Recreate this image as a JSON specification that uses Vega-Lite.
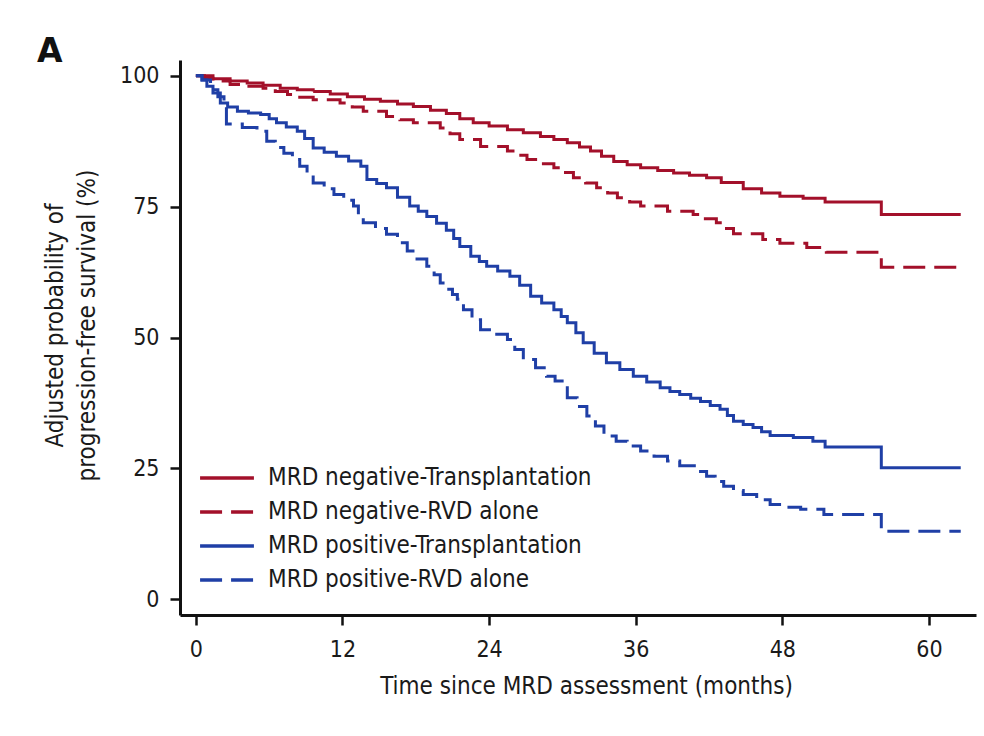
{
  "$schema": "https://vega.github.io/schema/vega-lite/v6.json",
  "autosize": {"type": "none"},
  "padding": {"left": 180, "top": 60, "right": 8, "bottom": 121},
  "width": 796,
  "height": 555,
  "background": "white",
  "title": {
    "text": "A",
    "anchor": "start",
    "frame": "group",
    "fontSize": 33,
    "fontWeight": "bold",
    "font": "DejaVu Sans",
    "color": "#111",
    "dx": -143,
    "offset": -9
  },
  "config": {
    "font": "DejaVu Sans Condensed",
    "view": {"stroke": null},
    "axis": {
      "domainColor": "#111",
      "domainWidth": 3,
      "tickColor": "#111",
      "tickWidth": 2.5,
      "tickSize": 10,
      "grid": false,
      "labelFont": "DejaVu Sans Condensed",
      "labelFontSize": 23,
      "labelColor": "#1a1a1a",
      "titleFont": "DejaVu Sans Condensed",
      "titleFontSize": 24,
      "titleFontWeight": "normal",
      "titleColor": "#1a1a1a"
    },
    "legend": {
      "labelFont": "DejaVu Sans Condensed",
      "labelFontSize": 24,
      "labelColor": "#1a1a1a",
      "labelLimit": 0
    }
  },
  "data": {
    "values": [
      {"group": "MRD negative-Transplantation", "t": 0, "p": 100},
      {"group": "MRD negative-Transplantation", "t": 1.4, "p": 99.4},
      {"group": "MRD negative-Transplantation", "t": 2.8, "p": 99.0},
      {"group": "MRD negative-Transplantation", "t": 4.2, "p": 98.6},
      {"group": "MRD negative-Transplantation", "t": 5.5, "p": 98.2},
      {"group": "MRD negative-Transplantation", "t": 6.9, "p": 97.6},
      {"group": "MRD negative-Transplantation", "t": 8.3, "p": 97.3},
      {"group": "MRD negative-Transplantation", "t": 9.6, "p": 97.0},
      {"group": "MRD negative-Transplantation", "t": 11, "p": 96.5},
      {"group": "MRD negative-Transplantation", "t": 12.4, "p": 96.0},
      {"group": "MRD negative-Transplantation", "t": 13.8, "p": 95.5},
      {"group": "MRD negative-Transplantation", "t": 15.1, "p": 95.1},
      {"group": "MRD negative-Transplantation", "t": 16.5, "p": 94.6},
      {"group": "MRD negative-Transplantation", "t": 17.8, "p": 94.1},
      {"group": "MRD negative-Transplantation", "t": 19.2, "p": 93.4},
      {"group": "MRD negative-Transplantation", "t": 20.5, "p": 92.8},
      {"group": "MRD negative-Transplantation", "t": 21.6, "p": 91.8},
      {"group": "MRD negative-Transplantation", "t": 22.7, "p": 91.0},
      {"group": "MRD negative-Transplantation", "t": 24, "p": 90.4},
      {"group": "MRD negative-Transplantation", "t": 25.5, "p": 89.7},
      {"group": "MRD negative-Transplantation", "t": 26.8, "p": 89.1},
      {"group": "MRD negative-Transplantation", "t": 28.2, "p": 88.4},
      {"group": "MRD negative-Transplantation", "t": 29.3, "p": 87.8},
      {"group": "MRD negative-Transplantation", "t": 30.4, "p": 87.2},
      {"group": "MRD negative-Transplantation", "t": 31.4, "p": 86.4},
      {"group": "MRD negative-Transplantation", "t": 32.3, "p": 85.6},
      {"group": "MRD negative-Transplantation", "t": 33.2, "p": 84.6},
      {"group": "MRD negative-Transplantation", "t": 34.2, "p": 83.6},
      {"group": "MRD negative-Transplantation", "t": 35.3, "p": 83.0},
      {"group": "MRD negative-Transplantation", "t": 36.4, "p": 82.4},
      {"group": "MRD negative-Transplantation", "t": 37.8, "p": 81.9},
      {"group": "MRD negative-Transplantation", "t": 39.1, "p": 81.4},
      {"group": "MRD negative-Transplantation", "t": 40.4, "p": 81.0},
      {"group": "MRD negative-Transplantation", "t": 41.8, "p": 80.5},
      {"group": "MRD negative-Transplantation", "t": 43, "p": 79.6},
      {"group": "MRD negative-Transplantation", "t": 44.8, "p": 78.4},
      {"group": "MRD negative-Transplantation", "t": 46.3, "p": 77.6},
      {"group": "MRD negative-Transplantation", "t": 47.8, "p": 77.0},
      {"group": "MRD negative-Transplantation", "t": 49.7, "p": 76.6},
      {"group": "MRD negative-Transplantation", "t": 51.5, "p": 75.9},
      {"group": "MRD negative-Transplantation", "t": 56.1, "p": 73.5},
      {"group": "MRD negative-Transplantation", "t": 62.6, "p": 73.5},

      {"group": "MRD negative-RVD alone", "t": 0, "p": 100},
      {"group": "MRD negative-RVD alone", "t": 0.7, "p": 99.5},
      {"group": "MRD negative-RVD alone", "t": 1.4, "p": 99.0},
      {"group": "MRD negative-RVD alone", "t": 2.8, "p": 98.3},
      {"group": "MRD negative-RVD alone", "t": 4.2, "p": 98.0},
      {"group": "MRD negative-RVD alone", "t": 5.5, "p": 97.6},
      {"group": "MRD negative-RVD alone", "t": 6.5, "p": 97.0},
      {"group": "MRD negative-RVD alone", "t": 7.5, "p": 96.4},
      {"group": "MRD negative-RVD alone", "t": 8.5, "p": 95.9},
      {"group": "MRD negative-RVD alone", "t": 9.6, "p": 95.4},
      {"group": "MRD negative-RVD alone", "t": 11.8, "p": 94.8},
      {"group": "MRD negative-RVD alone", "t": 12.8, "p": 94.0},
      {"group": "MRD negative-RVD alone", "t": 13.7, "p": 93.2},
      {"group": "MRD negative-RVD alone", "t": 15.6, "p": 92.2},
      {"group": "MRD negative-RVD alone", "t": 16.7, "p": 91.6},
      {"group": "MRD negative-RVD alone", "t": 17.8, "p": 91.0},
      {"group": "MRD negative-RVD alone", "t": 20, "p": 90.0},
      {"group": "MRD negative-RVD alone", "t": 20.8, "p": 88.9},
      {"group": "MRD negative-RVD alone", "t": 21.6, "p": 87.8},
      {"group": "MRD negative-RVD alone", "t": 23.3, "p": 86.5},
      {"group": "MRD negative-RVD alone", "t": 25.5, "p": 85.6},
      {"group": "MRD negative-RVD alone", "t": 26.3, "p": 84.8},
      {"group": "MRD negative-RVD alone", "t": 27.1, "p": 84.0},
      {"group": "MRD negative-RVD alone", "t": 28.2, "p": 83.2},
      {"group": "MRD negative-RVD alone", "t": 29.3, "p": 82.4},
      {"group": "MRD negative-RVD alone", "t": 30.1, "p": 81.5},
      {"group": "MRD negative-RVD alone", "t": 30.9, "p": 80.5},
      {"group": "MRD negative-RVD alone", "t": 31.9, "p": 79.5},
      {"group": "MRD negative-RVD alone", "t": 32.8, "p": 78.6},
      {"group": "MRD negative-RVD alone", "t": 33.7, "p": 77.6},
      {"group": "MRD negative-RVD alone", "t": 34.5, "p": 76.7},
      {"group": "MRD negative-RVD alone", "t": 35.5, "p": 75.9},
      {"group": "MRD negative-RVD alone", "t": 36.4, "p": 75.1},
      {"group": "MRD negative-RVD alone", "t": 38.6, "p": 74.1},
      {"group": "MRD negative-RVD alone", "t": 40.7, "p": 73.5},
      {"group": "MRD negative-RVD alone", "t": 41.7, "p": 72.7},
      {"group": "MRD negative-RVD alone", "t": 42.6, "p": 71.9},
      {"group": "MRD negative-RVD alone", "t": 43.3, "p": 70.8},
      {"group": "MRD negative-RVD alone", "t": 44, "p": 69.8},
      {"group": "MRD negative-RVD alone", "t": 46.4, "p": 68.7},
      {"group": "MRD negative-RVD alone", "t": 47.8, "p": 68.0},
      {"group": "MRD negative-RVD alone", "t": 50, "p": 67.2},
      {"group": "MRD negative-RVD alone", "t": 51.6, "p": 66.3},
      {"group": "MRD negative-RVD alone", "t": 56.1, "p": 63.4},
      {"group": "MRD negative-RVD alone", "t": 62.5, "p": 63.4},

      {"group": "MRD positive-Transplantation", "t": 0, "p": 100},
      {"group": "MRD positive-Transplantation", "t": 0.5, "p": 99.2},
      {"group": "MRD positive-Transplantation", "t": 0.9, "p": 98.0},
      {"group": "MRD positive-Transplantation", "t": 1.4, "p": 96.7},
      {"group": "MRD positive-Transplantation", "t": 2.0, "p": 94.8},
      {"group": "MRD positive-Transplantation", "t": 2.6, "p": 94.0},
      {"group": "MRD positive-Transplantation", "t": 3.4, "p": 93.2},
      {"group": "MRD positive-Transplantation", "t": 4.3, "p": 92.9},
      {"group": "MRD positive-Transplantation", "t": 5.3, "p": 92.6},
      {"group": "MRD positive-Transplantation", "t": 6.0, "p": 91.8},
      {"group": "MRD positive-Transplantation", "t": 6.6, "p": 91.0},
      {"group": "MRD positive-Transplantation", "t": 7.4, "p": 90.2},
      {"group": "MRD positive-Transplantation", "t": 8.3, "p": 89.4},
      {"group": "MRD positive-Transplantation", "t": 8.9, "p": 88.0},
      {"group": "MRD positive-Transplantation", "t": 9.6, "p": 86.2},
      {"group": "MRD positive-Transplantation", "t": 10.5, "p": 85.4},
      {"group": "MRD positive-Transplantation", "t": 11.5, "p": 84.6},
      {"group": "MRD positive-Transplantation", "t": 12.5, "p": 83.7},
      {"group": "MRD positive-Transplantation", "t": 13.5, "p": 82.7},
      {"group": "MRD positive-Transplantation", "t": 14, "p": 80.2},
      {"group": "MRD positive-Transplantation", "t": 14.8, "p": 79.4},
      {"group": "MRD positive-Transplantation", "t": 15.6, "p": 78.6},
      {"group": "MRD positive-Transplantation", "t": 16.5, "p": 76.8},
      {"group": "MRD positive-Transplantation", "t": 17.5, "p": 75.1},
      {"group": "MRD positive-Transplantation", "t": 18.2, "p": 74.1},
      {"group": "MRD positive-Transplantation", "t": 18.9, "p": 73.1},
      {"group": "MRD positive-Transplantation", "t": 19.7, "p": 71.8},
      {"group": "MRD positive-Transplantation", "t": 20.5, "p": 70.5},
      {"group": "MRD positive-Transplantation", "t": 21.1, "p": 68.9},
      {"group": "MRD positive-Transplantation", "t": 21.6, "p": 67.4},
      {"group": "MRD positive-Transplantation", "t": 22.5, "p": 65.5},
      {"group": "MRD positive-Transplantation", "t": 23.2, "p": 64.5},
      {"group": "MRD positive-Transplantation", "t": 23.8, "p": 63.6},
      {"group": "MRD positive-Transplantation", "t": 24.7, "p": 62.7},
      {"group": "MRD positive-Transplantation", "t": 25.7, "p": 61.7},
      {"group": "MRD positive-Transplantation", "t": 26.5, "p": 60.0},
      {"group": "MRD positive-Transplantation", "t": 27.4, "p": 57.9},
      {"group": "MRD positive-Transplantation", "t": 28.3, "p": 56.6},
      {"group": "MRD positive-Transplantation", "t": 29.3, "p": 55.3},
      {"group": "MRD positive-Transplantation", "t": 29.9, "p": 54.0},
      {"group": "MRD positive-Transplantation", "t": 30.4, "p": 52.8},
      {"group": "MRD positive-Transplantation", "t": 31.1, "p": 50.9},
      {"group": "MRD positive-Transplantation", "t": 31.7, "p": 49.0},
      {"group": "MRD positive-Transplantation", "t": 32.6, "p": 47.0},
      {"group": "MRD positive-Transplantation", "t": 33.6, "p": 45.2},
      {"group": "MRD positive-Transplantation", "t": 34.7, "p": 43.9},
      {"group": "MRD positive-Transplantation", "t": 35.8, "p": 42.6},
      {"group": "MRD positive-Transplantation", "t": 36.9, "p": 41.5},
      {"group": "MRD positive-Transplantation", "t": 38, "p": 40.4},
      {"group": "MRD positive-Transplantation", "t": 38.8, "p": 39.7},
      {"group": "MRD positive-Transplantation", "t": 39.6, "p": 39.1},
      {"group": "MRD positive-Transplantation", "t": 40.5, "p": 38.4},
      {"group": "MRD positive-Transplantation", "t": 41.3, "p": 37.8},
      {"group": "MRD positive-Transplantation", "t": 42.1, "p": 37.0},
      {"group": "MRD positive-Transplantation", "t": 42.9, "p": 36.3},
      {"group": "MRD positive-Transplantation", "t": 43.5, "p": 35.1},
      {"group": "MRD positive-Transplantation", "t": 44, "p": 34.0},
      {"group": "MRD positive-Transplantation", "t": 44.8, "p": 33.4},
      {"group": "MRD positive-Transplantation", "t": 45.6, "p": 32.8},
      {"group": "MRD positive-Transplantation", "t": 46.3, "p": 32.0},
      {"group": "MRD positive-Transplantation", "t": 47, "p": 31.3},
      {"group": "MRD positive-Transplantation", "t": 48.9, "p": 30.9},
      {"group": "MRD positive-Transplantation", "t": 50.5, "p": 30.2},
      {"group": "MRD positive-Transplantation", "t": 51.5, "p": 29.1},
      {"group": "MRD positive-Transplantation", "t": 56.1, "p": 25.1},
      {"group": "MRD positive-Transplantation", "t": 62.6, "p": 25.1},

      {"group": "MRD positive-RVD alone", "t": 0, "p": 100},
      {"group": "MRD positive-RVD alone", "t": 0.5, "p": 99.2},
      {"group": "MRD positive-RVD alone", "t": 1.2, "p": 97.3},
      {"group": "MRD positive-RVD alone", "t": 1.8, "p": 96.0},
      {"group": "MRD positive-RVD alone", "t": 2.3, "p": 94.8},
      {"group": "MRD positive-RVD alone", "t": 2.5, "p": 90.8},
      {"group": "MRD positive-RVD alone", "t": 3.8, "p": 90.1},
      {"group": "MRD positive-RVD alone", "t": 5.0, "p": 89.4},
      {"group": "MRD positive-RVD alone", "t": 5.8, "p": 87.5},
      {"group": "MRD positive-RVD alone", "t": 6.5, "p": 86.3},
      {"group": "MRD positive-RVD alone", "t": 7.2, "p": 85.2},
      {"group": "MRD positive-RVD alone", "t": 7.9, "p": 84.0},
      {"group": "MRD positive-RVD alone", "t": 8.5, "p": 82.7},
      {"group": "MRD positive-RVD alone", "t": 9.1, "p": 81.0},
      {"group": "MRD positive-RVD alone", "t": 9.6, "p": 79.5},
      {"group": "MRD positive-RVD alone", "t": 10.5, "p": 78.4},
      {"group": "MRD positive-RVD alone", "t": 11.3, "p": 77.3},
      {"group": "MRD positive-RVD alone", "t": 12.1, "p": 76.2},
      {"group": "MRD positive-RVD alone", "t": 12.9, "p": 75.1},
      {"group": "MRD positive-RVD alone", "t": 13.3, "p": 73.5},
      {"group": "MRD positive-RVD alone", "t": 13.7, "p": 71.9},
      {"group": "MRD positive-RVD alone", "t": 14.7, "p": 70.8},
      {"group": "MRD positive-RVD alone", "t": 15.6, "p": 69.7},
      {"group": "MRD positive-RVD alone", "t": 16.5, "p": 68.1},
      {"group": "MRD positive-RVD alone", "t": 17.3, "p": 66.5},
      {"group": "MRD positive-RVD alone", "t": 18.1, "p": 65.0},
      {"group": "MRD positive-RVD alone", "t": 18.9, "p": 63.6},
      {"group": "MRD positive-RVD alone", "t": 19.5, "p": 62.0},
      {"group": "MRD positive-RVD alone", "t": 20, "p": 60.4},
      {"group": "MRD positive-RVD alone", "t": 20.5, "p": 59.2},
      {"group": "MRD positive-RVD alone", "t": 21.0, "p": 58.2},
      {"group": "MRD positive-RVD alone", "t": 21.4, "p": 57.3},
      {"group": "MRD positive-RVD alone", "t": 21.9, "p": 55.3},
      {"group": "MRD positive-RVD alone", "t": 22.6, "p": 53.4},
      {"group": "MRD positive-RVD alone", "t": 23.3, "p": 51.5},
      {"group": "MRD positive-RVD alone", "t": 24.4, "p": 50.6},
      {"group": "MRD positive-RVD alone", "t": 25.5, "p": 49.6},
      {"group": "MRD positive-RVD alone", "t": 26.1, "p": 47.7},
      {"group": "MRD positive-RVD alone", "t": 26.8, "p": 45.8},
      {"group": "MRD positive-RVD alone", "t": 27.8, "p": 44.2},
      {"group": "MRD positive-RVD alone", "t": 28.7, "p": 42.6},
      {"group": "MRD positive-RVD alone", "t": 29.4, "p": 41.7},
      {"group": "MRD positive-RVD alone", "t": 30.1, "p": 40.7},
      {"group": "MRD positive-RVD alone", "t": 30.4, "p": 38.5},
      {"group": "MRD positive-RVD alone", "t": 31.2, "p": 36.8},
      {"group": "MRD positive-RVD alone", "t": 32, "p": 35.0},
      {"group": "MRD positive-RVD alone", "t": 32.7, "p": 33.1},
      {"group": "MRD positive-RVD alone", "t": 33.4, "p": 31.2},
      {"group": "MRD positive-RVD alone", "t": 34.4, "p": 30.2},
      {"group": "MRD positive-RVD alone", "t": 35.3, "p": 29.3},
      {"group": "MRD positive-RVD alone", "t": 36.4, "p": 28.3},
      {"group": "MRD positive-RVD alone", "t": 37.5, "p": 27.3},
      {"group": "MRD positive-RVD alone", "t": 38.6, "p": 26.4},
      {"group": "MRD positive-RVD alone", "t": 39.6, "p": 25.5},
      {"group": "MRD positive-RVD alone", "t": 41.0, "p": 24.4},
      {"group": "MRD positive-RVD alone", "t": 41.8, "p": 23.5},
      {"group": "MRD positive-RVD alone", "t": 42.5, "p": 22.5},
      {"group": "MRD positive-RVD alone", "t": 43.2, "p": 21.6},
      {"group": "MRD positive-RVD alone", "t": 44, "p": 20.8},
      {"group": "MRD positive-RVD alone", "t": 44.8, "p": 20.0},
      {"group": "MRD positive-RVD alone", "t": 45.9, "p": 19.0},
      {"group": "MRD positive-RVD alone", "t": 47, "p": 18.1},
      {"group": "MRD positive-RVD alone", "t": 48.3, "p": 17.6},
      {"group": "MRD positive-RVD alone", "t": 49.5, "p": 17.2},
      {"group": "MRD positive-RVD alone", "t": 51.4, "p": 16.2},
      {"group": "MRD positive-RVD alone", "t": 56.1, "p": 13.0},
      {"group": "MRD positive-RVD alone", "t": 62.6, "p": 13.0}
    ]
  },
  "mark": {"type": "line", "interpolate": "step-after", "strokeWidth": 3, "clip": false},
  "encoding": {
    "x": {
      "field": "t",
      "type": "quantitative",
      "scale": {"domain": [-1.3, 63.85], "nice": false, "zero": false},
      "axis": {
        "values": [0, 12, 24, 36, 48, 60],
        "title": "Time since MRD assessment (months)",
        "titleX": 406,
        "labelPadding": 13,
        "titlePadding": 13
      }
    },
    "y": {
      "field": "p",
      "type": "quantitative",
      "scale": {"domain": [-3, 103], "nice": false, "zero": false},
      "axis": {
        "values": [0, 25, 50, 75, 100],
        "title": ["Adjusted probability of", "progression-free survival (%)"],
        "titleLineHeight": 32,
        "titleY": 265,
        "labelPadding": 11,
        "titlePadding": 20
      }
    },
    "color": {
      "field": "group",
      "type": "nominal",
      "sort": ["MRD negative-Transplantation", "MRD negative-RVD alone", "MRD positive-Transplantation", "MRD positive-RVD alone"],
      "scale": {
        "domain": ["MRD negative-Transplantation", "MRD negative-RVD alone", "MRD positive-Transplantation", "MRD positive-RVD alone"],
        "range": ["#a3102a", "#a3102a", "#1f3fa6", "#1f3fa6"]
      },
      "legend": {
        "title": null,
        "orient": "none",
        "legendX": 18,
        "legendY": 401,
        "symbolType": "stroke",
        "symbolSize": 2900,
        "symbolStrokeWidth": 3.5,
        "labelOffset": 12,
        "clipHeight": 34,
        "rowPadding": 0,
        "padding": 0
      }
    },
    "strokeDash": {
      "field": "group",
      "type": "nominal",
      "sort": ["MRD negative-Transplantation", "MRD negative-RVD alone", "MRD positive-Transplantation", "MRD positive-RVD alone"],
      "scale": {
        "domain": ["MRD negative-Transplantation", "MRD negative-RVD alone", "MRD positive-Transplantation", "MRD positive-RVD alone"],
        "range": [[1, 0], [22, 9], [1, 0], [22, 9]]
      },
      "legend": {
        "title": null,
        "orient": "none",
        "legendX": 18,
        "legendY": 401,
        "symbolType": "stroke",
        "symbolSize": 2900,
        "symbolStrokeWidth": 3.5,
        "labelOffset": 12,
        "clipHeight": 34,
        "rowPadding": 0,
        "padding": 0
      }
    }
  }
}
